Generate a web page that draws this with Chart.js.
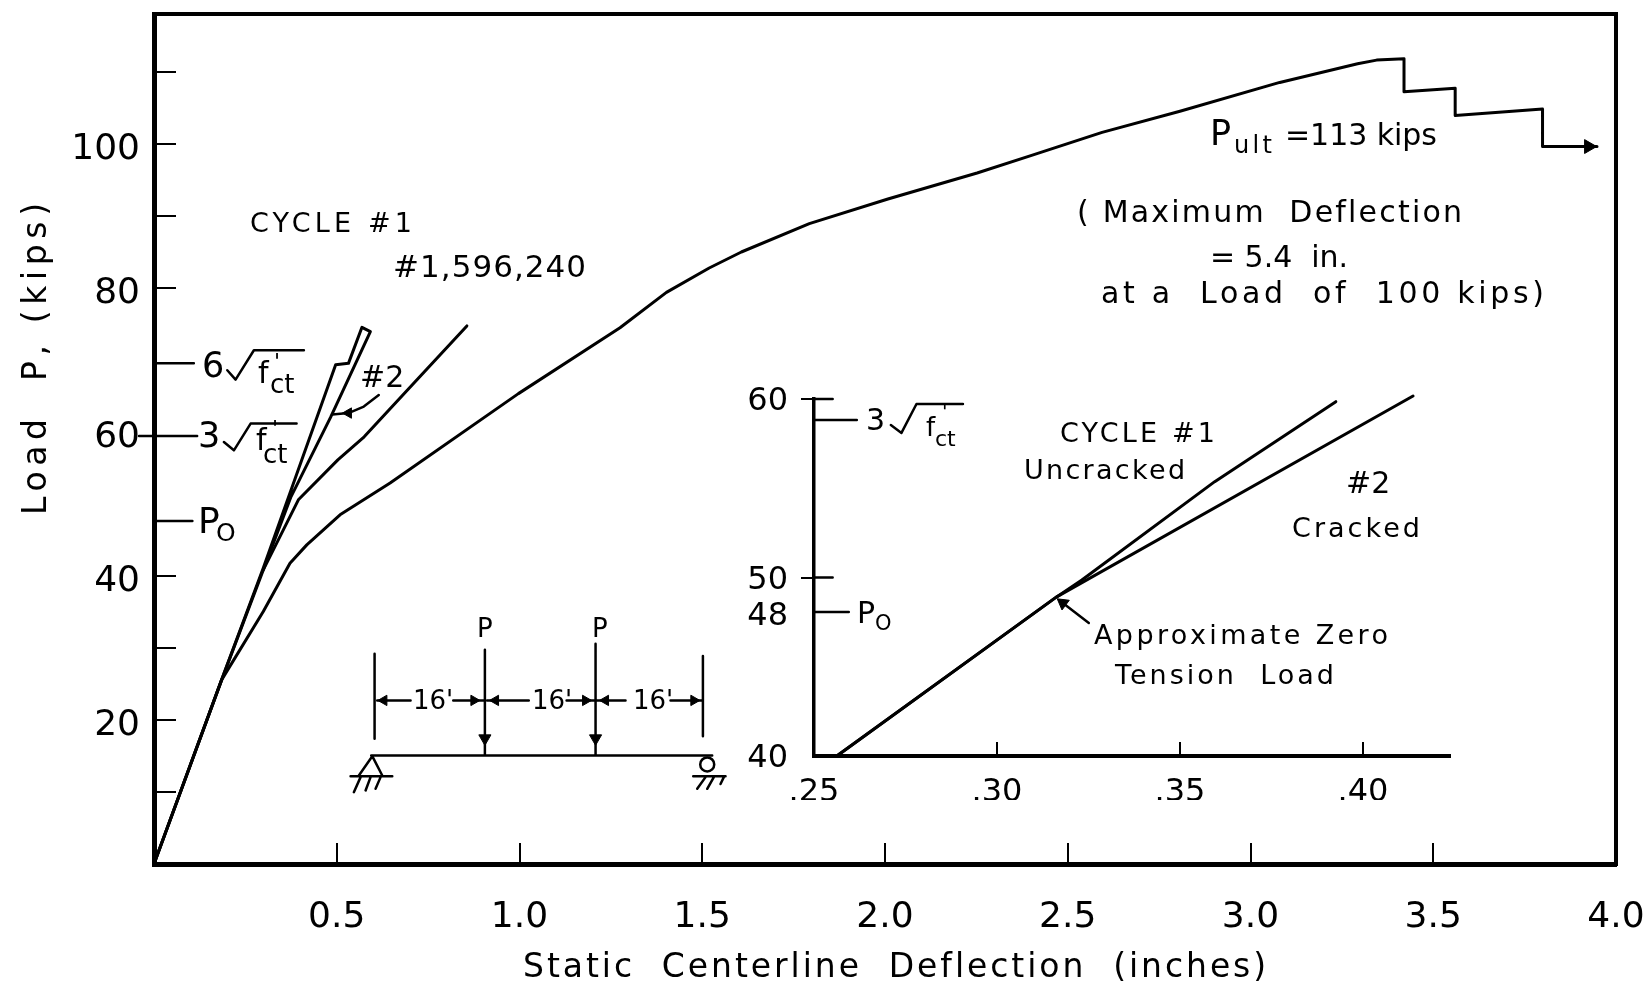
<!DOCTYPE html>
<html lang="en">

<head>
    <title>Static Centerline Deflection</title>
    <meta charset="utf-8">
    <script src="https://cdn.jsdelivr.net/npm/chart.js@4/dist/chart.umd.min.js"></script>
    <style>
        body { margin: 0; background: #fff; }
        #main-chart { position: absolute; left: 0; top: 0; }
        #inset-chart { position: absolute; left: 720px; top: 380px; }
    </style>
</head>

<body>
    <canvas id="main-chart" width="1647" height="984"></canvas>
    <canvas id="inset-chart" width="780" height="420"></canvas>
    <script>
        // main chart, deflection (in) vs load (kips)
        const xTicks = [0, 0.5, 1, 1.5, 2, 2.5, 3, 3.5, 4];
        const yTicks = [0, 10, 20, 30, 40, 60, 80, 90, 100, 110];
        const yLabels = [20, 40, 60, 80, 100];

        const cycle1X = [0, 0.185, 0.299, 0.497, 0.532, 0.569, 0.592, 0.483, 0.374, 0.299];
        const cycle1Y = [0, 25.56, 41.1, 69.3, 69.5, 74.5, 73.9, 62, 50.9, 40.83];
        const fatigueX = [0, 0.185, 0.299, 0.395, 0.503, 0.575, 0.71, 0.856];
        const fatigueY = [0, 25.56, 40.83, 50.56, 56.1, 59.3, 66.7, 74.7];
        const ultimateX = [0, 0.185, 0.299, 0.372, 0.418, 0.509, 0.646, 0.997, 1.275, 1.402, 1.519, 1.607, 1.793, 2.008, 2.252, 2.399, 2.594, 2.807, 3.08, 3.293, 3.345, 3.42, 3.42, 3.56, 3.56, 3.799, 3.799, 3.948];
        const ultimateY = [0, 25.56, 35.04, 41.76, 44.3, 48.47, 52.88, 65.3, 74.44, 79.35, 82.74, 84.96, 88.89, 92.32, 95.93, 98.33, 101.57, 104.49, 108.5, 111.1, 111.6, 111.8, 107.2, 107.7, 103.9, 104.8, 99.6, 99.6];

        // markers on the load axis, with radicals. null breaks the line
        const markerX = [0, 0.109, null, -0.041, 0.118, null, 0, 0.105, null, 0.2005, 0.2232, 0.2733, 0.4101, null, 0.1912, 0.2186, 0.2643, 0.3901];
        const markerY = [69.5, 69.5, null, 59.4, 59.4, null, 47.6, 47.6, null, 68.54, 67.25, 71.32, 71.32, null, 58.58, 57.43, 61.14, 61.14];
        const pointerX = [0.615, 0.574, 0.532, 0.488];
        const pointerY = [65.1, 63.5, 62.6, 62.4];

        // beam sketch
        const beamX = [0.5943, 1.5272, null, 0.6035, 0.6035, null, 0.9053, 0.9053, null, 1.2081, 1.2081, null, 1.5018, 1.5018, null,
            0.6107, 0.702, null, 0.8187, 0.9025, null, 0.9115, 1.0254, null, 1.1288, 1.2034, null, 1.2127, 1.2901, null, 1.4132, 1.5];
        const beamY = [15.07, 15.07, null, 29.2, 17.39, null, 29.75, 15.07, null, 30.58, 15.07, null, 28.86, 17.75, null,
            22.71, 22.71, null, 22.71, 22.71, null, 22.71, 22.71, null, 22.71, 22.71, null, 22.71, 22.71, null, 22.71, 22.71];
        const supportX = [0.5605, 0.5972, 0.6245, null, 0.5378, 0.6519, null, 0.5652, 0.5468, null, 0.5925, 0.5789, null, 0.6199, 0.6062, null,
            1.4753, 1.5637, null, 1.509, 1.4862, null, 1.5317, 1.5136, null, 1.559, 1.55];
        const supportY = [12.29, 14.97, 12.29, null, 12.19, 12.19, null, 12.06, 9.97, null, 12.06, 10.21, null, 12.06, 10.44, null,
            12.19, 12.19, null, 12.06, 10.44, null, 12.06, 10.44, null, 12.06, 11.1];
        const rollerX = [1.5136];
        const rollerY = [13.82];

        const headLeftX = [0.629, 0.9345, 1.2354, 0.532];
        const headLeftY = [22.71, 22.71, 22.71, 62.6];
        const headRightX = [0.8752, 1.1807, 1.477];
        const headRightY = [22.71, 22.71, 22.71];
        const headDownX = [0.9053, 1.2081];
        const headDownY = [17.44, 17.44];
        const headEndX = [3.925];
        const headEndY = [99.6];

        // inset chart
        const insetXTicks = [0.25, 0.30, 0.35, 0.40];
        const insetYTicks = [40, 48, 50, 60];
        const uncrackedX = [0.2566, 0.3162, 0.3232, 0.3595, 0.3926];
        const uncrackedY = [40.06, 48.9, 49.86, 55.37, 59.85];
        const crackedX = [0.2566, 0.3162, 0.4137];
        const crackedY = [40.06, 48.9, 60.17];
        const insetMarkX = [0.25, 0.2617, null, 0.25, 0.2595, null, 0.25, 0.2551, null, 0.25, 0.2551, null, 0.271, 0.2739, 0.278, 0.2907, null, 0.318, 0.3251];
        const insetMarkY = [58.82, 58.82, null, 48.07, 48.07, null, 60, 60, null, 50, 50, null, 58.54, 58.1, 59.72, 59.72, null, 48.57, 47.45];
        const insetHeadX = [0.318];
        const insetHeadY = [48.57];

        // text, x, y (baseline left), font size, width to spread to
        const notes = [
            ["Static  Centerline  Deflection  (inches)", 523, 977, 33, 743],
            ["CYCLE #1", 250, 232, 27, 162],
            ["#1,596,240", 393, 277, 31, 193],
            ["#2", 360, 387, 30, 0],
            ["6", 202, 377, 35, 0],
            ["f", 258, 383, 30, 0],
            ["'", 274, 369, 22, 0],
            ["ct", 270, 393, 26, 0],
            ["3", 198, 447, 35, 0],
            ["f", 256, 450, 30, 0],
            ["'", 272, 436, 22, 0],
            ["ct", 263, 463, 26, 0],
            ["P", 198, 533, 36, 0],
            ["O", 216, 541, 25, 0],
            ["P", 1210, 145, 35, 0],
            ["ult", 1234, 153, 24, 38],
            ["=113 kips", 1285, 145, 30, 152],
            ["( Maximum  Deflection", 1077, 222, 30, 385],
            ["= 5.4  in.", 1210, 267, 30, 138],
            ["at a  Load  of  100 kips)", 1101, 303, 30, 443],
            ["P", 477, 637, 26, 0],
            ["P", 592, 637, 26, 0],
            ["16'", 413, 709, 26, 0],
            ["16'", 532, 709, 26, 0],
            ["16'", 633, 709, 26, 0],
            ["3", 866, 430, 30, 0],
            ["f", 926, 436, 26, 0],
            ["'", 942, 418, 20, 0],
            ["ct", 935, 446, 22, 0],
            ["P", 857, 623, 30, 0],
            ["O", 875, 630, 21, 0],
            ["CYCLE #1", 1060, 442, 27, 155],
            ["Uncracked", 1024, 479, 27, 161],
            ["#2", 1346, 493, 30, 0],
            ["Cracked", 1292, 537, 27, 128],
            ["Approximate Zero", 1094, 644, 27, 294],
            ["Tension  Load", 1115, 684, 27, 219]
        ];
        const sideTitle = ["Load  P, (kips)", 46, 515, 33, 312];

        const fontName = "'DejaVu Sans'";

        function pts(xs, ys) {
            return xs.map((x, i) => ({ x: x, y: ys[i] }));
        }

        function line(xs, ys, width) {
            return {
                data: pts(xs, ys), borderColor: "#000", borderWidth: width, pointRadius: 0, tension: 0,
                borderJoinStyle: "round", borderCapStyle: "round", clip: false
            };
        }

        function heads(xs, ys, rot, size) {
            return {
                data: pts(xs, ys), showLine: false, pointStyle: "triangle", pointRotation: rot, pointRadius: size,
                backgroundColor: "#000", borderColor: "#000", clip: false
            };
        }

        // the scales ask for room for their end labels, we fix the plot area ourselves
        function fixSize(s, side, value) {
            s[side] = value;
            s.paddingLeft = s.paddingRight = s.paddingTop = s.paddingBottom = 0;
        }

        function spreadText(ctx, text, x, y, size, width) {
            ctx.font = size + "px " + fontName;
            ctx.letterSpacing = "0px";
            if (width > 0) {
                let natural = ctx.measureText(text).width;
                ctx.letterSpacing = ((width - natural) / (text.length - 1)).toFixed(2) + "px";
            }
            ctx.fillText(text, x, y);
            ctx.letterSpacing = "0px";
        }

        const framePlugin = {
            id: "frame",
            afterDatasetsDraw(chart) {
                let a = chart.chartArea, ctx = chart.ctx;
                ctx.save();
                ctx.strokeStyle = "#000";
                ctx.lineWidth = 4;
                ctx.strokeRect(a.left, a.top, a.right - a.left, a.bottom - a.top);
                ctx.restore();
            }
        };

        const notesPlugin = {
            id: "notes",
            afterDraw(chart) {
                let ctx = chart.ctx;
                ctx.save();
                ctx.fillStyle = "#000";
                ctx.textAlign = "left";
                ctx.textBaseline = "alphabetic";
                notes.forEach(n => spreadText(ctx, n[0], n[1], n[2], n[3], n[4]));
                ctx.translate(sideTitle[1], sideTitle[2]);
                ctx.rotate(-Math.PI / 2);
                spreadText(ctx, sideTitle[0], 0, 0, sideTitle[3], sideTitle[4]);
                ctx.restore();
            }
        };

        new Chart(document.getElementById("main-chart"), {
            type: "line",
            data: {
                datasets: [
                    line(cycle1X, cycle1Y, 3),
                    line(fatigueX, fatigueY, 3),
                    line(ultimateX, ultimateY, 3),
                    line(markerX, markerY, 2.5),
                    line(pointerX, pointerY, 2.5),
                    line(beamX, beamY, 2.5),
                    line(supportX, supportY, 2.5),
                    {
                        data: pts(rollerX, rollerY), showLine: false, pointStyle: "circle", pointRadius: 7,
                        backgroundColor: "#fff", borderColor: "#000", pointBorderWidth: 2.5, clip: false
                    },
                    heads(headLeftX, headLeftY, 270, 6),
                    heads(headRightX, headRightY, 90, 6),
                    heads(headDownX, headDownY, 180, 7),
                    heads(headEndX, headEndY, 90, 8)
                ]
            },
            options: {
                responsive: false,
                animation: false,
                layout: { padding: { top: 14, right: 31, left: 0, bottom: 0 } },
                plugins: { legend: { display: false }, tooltip: { enabled: false } },
                scales: {
                    x: {
                        type: "linear", min: 0, max: 4,
                        afterBuildTicks: s => { s.ticks = xTicks.map(v => ({ value: v })); },
                        afterFit: s => { fixSize(s, "height", 120); },
                        border: { color: "#000", width: 5 },
                        grid: { drawOnChartArea: false, color: "#000", lineWidth: 2, tickLength: -21, tickColor: "#000" },
                        ticks: {
                            autoSkip: false, maxRotation: 0, padding: 53, color: "#000",
                            font: { family: fontName, size: 36 },
                            callback: v => v === 0 ? "" : v.toFixed(1)
                        }
                    },
                    y: {
                        type: "linear", min: 0, max: 118,
                        afterBuildTicks: s => { s.ticks = yTicks.map(v => ({ value: v })); },
                        afterFit: s => { fixSize(s, "width", 154); },
                        border: { color: "#000", width: 5 },
                        grid: {
                            drawOnChartArea: false, color: "#000", lineWidth: 2, tickLength: -22,
                            tickColor: c => c.tick && c.tick.value === 60 ? "rgba(0,0,0,0)" : "#000"
                        },
                        ticks: {
                            autoSkip: false, padding: 36, labelOffset: 6, color: "#000",
                            font: { family: fontName, size: 36 },
                            callback: v => yLabels.includes(v) ? String(v) : ""
                        }
                    }
                }
            },
            plugins: [framePlugin, notesPlugin]
        });

        new Chart(document.getElementById("inset-chart"), {
            type: "line",
            data: {
                datasets: [
                    line(uncrackedX, uncrackedY, 3),
                    line(crackedX, crackedY, 3),
                    line(insetMarkX, insetMarkY, 2.5),
                    heads(insetHeadX, insetHeadY, 307, 7)
                ]
            },
            options: {
                responsive: false,
                animation: false,
                layout: { padding: { top: 19, right: 50, left: 0, bottom: 0 } },
                plugins: { legend: { display: false }, tooltip: { enabled: false } },
                scales: {
                    x: {
                        type: "linear", min: 0.25, max: 0.4238,
                        afterBuildTicks: s => { s.ticks = insetXTicks.map(v => ({ value: v })); },
                        afterFit: s => { fixSize(s, "height", 44); },
                        border: { color: "#000", width: 4 },
                        grid: {
                            drawOnChartArea: false, lineWidth: 2, tickLength: -14,
                            tickColor: c => c.tick && c.tick.value === 0.25 ? "rgba(0,0,0,0)" : "#000"
                        },
                        ticks: {
                            autoSkip: false, maxRotation: 0, padding: 31, color: "#000",
                            font: { family: fontName, size: 32 },
                            callback: v => v.toFixed(2).slice(1)
                        }
                    },
                    y: {
                        type: "linear", min: 40, max: 60,
                        afterBuildTicks: s => { s.ticks = insetYTicks.map(v => ({ value: v })); },
                        afterFit: s => { fixSize(s, "width", 94); },
                        border: { color: "#000", width: 3.5 },
                        grid: {
                            drawOnChartArea: false, lineWidth: 2, tickLength: 13,
                            tickColor: c => c.tick && (c.tick.value === 60 || c.tick.value === 50) ? "#000" : "rgba(0,0,0,0)"
                        },
                        ticks: {
                            autoSkip: false, padding: 13, labelOffset: 3, color: "#000",
                            font: { family: fontName, size: 32 },
                            callback: v => String(v)
                        }
                    }
                }
            }
        });
    </script>
</body>

</html>
